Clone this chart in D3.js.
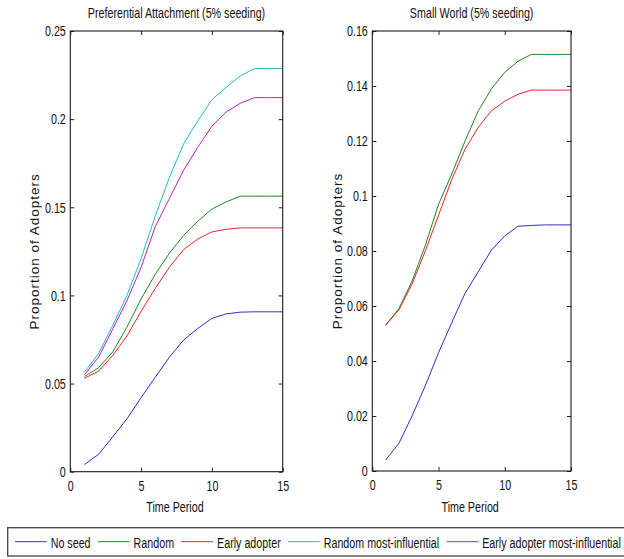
<!DOCTYPE html>
<html><head><meta charset="utf-8">
<script src="https://cdn.jsdelivr.net/npm/d3@7"></script>
<style>
html,body{margin:0;padding:0;background:#fff;}
svg{display:block;}
text{font-family:"Liberation Sans",Arial,sans-serif;fill:#111;}
</style></head>
<body>
<svg id="chart" width="624" height="559"></svg>
<script>
// ---- data ----
const timePeriods = [1,2,3,4,5,6,7,8,9,10,11,12,13,14,15];
const seriesNames = ["No seed","Random","Early adopter","Random most-influential","Early adopter most-influential"];
const seriesColors = ["#2f2fcc","#1e8a1e","#e02a2a","#1fbfbf","#bb22bb"];

// Preferential Attachment
const paNoSeed   = [0.004,0.0099,0.0198,0.030,0.042,0.0536,0.065,0.0747,0.0813,0.087,0.0895,0.0905,0.0907,0.0907,0.0907];
const paRandom   = [0.054,0.059,0.068,0.082,0.098,0.112,0.124,0.134,0.142,0.149,0.153,0.1563,0.1563,0.1563,0.1563];
const paEarly    = [0.053,0.057,0.066,0.077,0.091,0.104,0.116,0.126,0.132,0.136,0.1375,0.1383,0.1383,0.1383,0.1383];
const paRandInf  = [0.0565,0.067,0.083,0.100,0.121,0.145,0.167,0.186,0.199,0.211,0.218,0.2245,0.2287,0.2287,0.2287];
const paEarlyInf = [0.055,0.065,0.081,0.097,0.116,0.139,0.155,0.171,0.184,0.196,0.204,0.209,0.2122,0.2122,0.2122];

// Small World
const swNoSeed = [0.004,0.010,0.020,0.031,0.043,0.054,0.0646,0.0725,0.0804,0.0855,0.089,0.0893,0.0895,0.0895,0.0895];
const swRandom = [0.053,0.059,0.069,0.082,0.097,0.108,0.120,0.131,0.139,0.145,0.149,0.1515,0.1515,0.1515,0.1515];
const swEarly  = [0.053,0.0585,0.068,0.080,0.093,0.106,0.117,0.125,0.131,0.1345,0.137,0.1385,0.1385,0.1385,0.1385];

const xTicks = [0,5,10,15];
const paYTicks = [0,0.05,0.1,0.15,0.2,0.25];
const paYLabels = ["0","0.05","0.1","0.15","0.2","0.25"];
const swYTicks = [0,0.02,0.04,0.06,0.08,0.1,0.12,0.14,0.16];
const swYLabels = ["0","0.02","0.04","0.06","0.08","0.1","0.12","0.14","0.16"];

const titles = ["Preferential Attachment (5% seeding)","Small World (5% seeding)"];
const xLabel = "Time Period";
const yLabel = "Proportion of Adopters";

// ---- drawing ----
const SX = 0.715;      // horizontal squeeze of the condensed MATLAB-like text
const FS = 15;
const svg = d3.select("#chart");

function ctext(g, x, y, str, anchor){
  return g.append("text")
    .attr("transform", `translate(${x},${y}) scale(${SX},1)`)
    .attr("text-anchor", anchor)
    .attr("font-size", FS)
    .text(str);
}

function panel(cfg){
  const g = svg.append("g");
  const x = d3.scaleLinear().domain([0,15]).range([cfg.x0, cfg.x1]);
  const y = d3.scaleLinear().domain([0, cfg.ymax]).range([cfg.y0, cfg.y1]);

  // lines
  const line = d3.line().x((d,i)=>x(timePeriods[i])).y(d=>y(d));
  cfg.series.forEach((s,i)=>{
    g.append("path").datum(s)
      .attr("fill","none")
      .attr("stroke", seriesColors[i])
      .attr("stroke-width",1)
      .attr("d", line);
  });

  // axes
  const fmtY = d => cfg.ylabels[cfg.yticks.indexOf(d)];
  const ax = g.append("g").attr("transform",`translate(${cfg.x0},0)`)
    .call(d3.axisLeft(y).tickValues(cfg.yticks).tickFormat(fmtY).tickSizeInner(-4).tickSizeOuter(0).tickPadding(4.5));
  const bx = g.append("g").attr("transform",`translate(0,${cfg.y0})`)
    .call(d3.axisBottom(x).tickValues(xTicks).tickFormat(d3.format("d")).tickSizeInner(-4).tickSizeOuter(0).tickPadding(8.5));
  g.append("g").attr("transform",`translate(${cfg.x1},0)`)
    .call(d3.axisRight(y).tickValues(cfg.yticks).tickFormat("").tickSizeInner(-4).tickSizeOuter(0));
  g.append("g").attr("transform",`translate(0,${cfg.y1})`)
    .call(d3.axisTop(x).tickValues(xTicks).tickFormat("").tickSizeInner(-4).tickSizeOuter(0));
  g.selectAll(".domain").remove();
  g.selectAll(".tick line").attr("stroke","#222");

  [ax,bx].forEach(a=>{
    a.attr("font-family",null).attr("font-size",null);
    a.selectAll("text").each(function(){
      const t = d3.select(this);
      const xx = +(t.attr("x")||0);
      t.attr("x", xx/SX).attr("transform",`scale(${SX},1)`).attr("font-size",FS).attr("fill","#111");
    });
  });

  // box
  g.append("rect").attr("x",cfg.x0).attr("y",cfg.y1)
    .attr("width",cfg.x1-cfg.x0).attr("height",cfg.y0-cfg.y1)
    .attr("fill","none").attr("stroke","#1a1a1a").attr("stroke-width",1.1);

  // texts
  ctext(g, (cfg.x0+cfg.x1)/2, 18.3, cfg.title, "middle");
  ctext(g, (cfg.x0+cfg.x1)/2 - 1.5, 511.5, xLabel, "middle");
  g.append("text")
    .attr("transform",`translate(${cfg.ylx},${(cfg.y0+cfg.y1)/2}) rotate(-90)`)
    .attr("text-anchor","middle").attr("font-size",13.5).attr("letter-spacing",1)
    .text(yLabel);
}

panel({x0:70.3, x1:282.7, y0:471.7, y1:31, ymax:0.25, yticks:paYTicks, ylabels:paYLabels,
       series:[paNoSeed,paRandom,paEarly,paRandInf,paEarlyInf], title:titles[0], ylx:39});
panel({x0:372.3, x1:571, y0:471, y1:31, ymax:0.16, yticks:swYTicks, ylabels:swYLabels,
       series:[swNoSeed,swRandom,swEarly], title:titles[1], ylx:341.5});

// legend
const lg = svg.append("g");
lg.append("rect").attr("x",7.7).attr("y",527.7).attr("width",640).attr("height",28.3)
  .attr("fill","#fff").attr("stroke","#444").attr("stroke-width",1.3);
let cx = 15;
seriesNames.forEach((n,i)=>{
  lg.append("line").attr("x1",cx).attr("x2",cx+31.7).attr("y1",541.7).attr("y2",541.7)
    .attr("stroke",seriesColors[i]).attr("stroke-width",1);
  const t = ctext(lg, cx+35.7, 547.8, n, "start");
  const w = t.node().getComputedTextLength()*SX;
  cx += 35.7 + w + 7.3;
});
</script>
</body></html>
